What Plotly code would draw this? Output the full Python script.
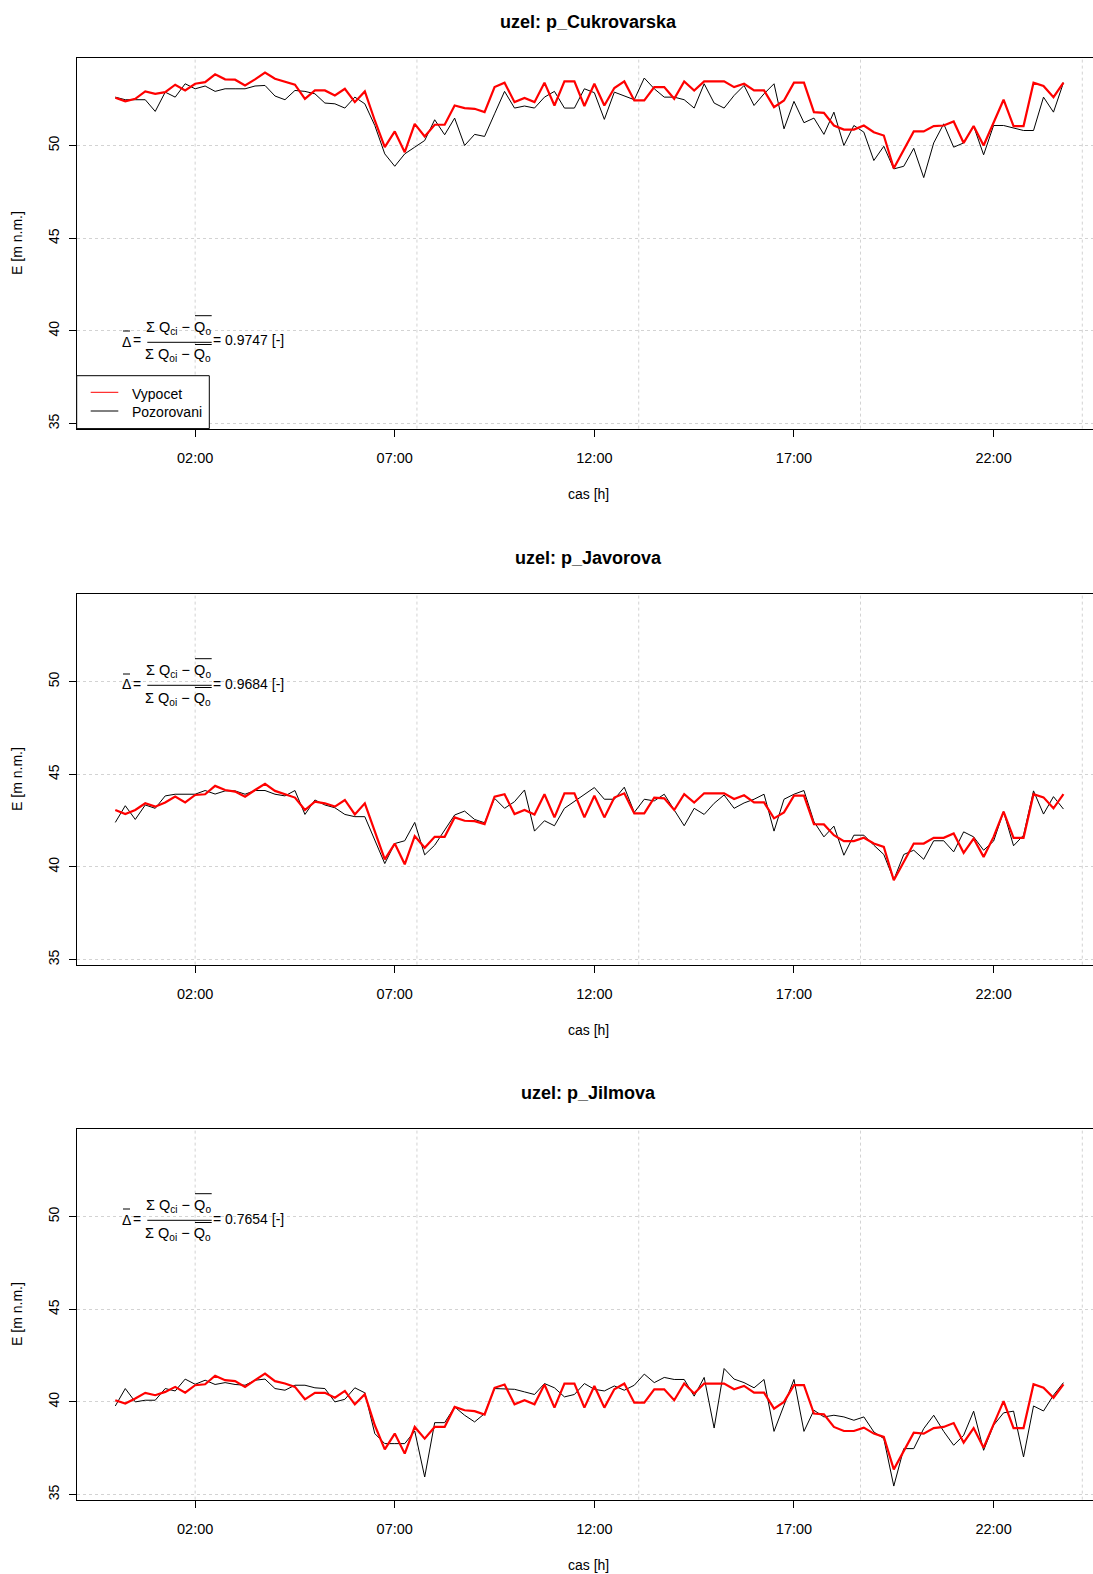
import numpy as np
import plotly.graph_objects as go

# ---------------------------------------------------------------------------
# data: computed (Vypocet) vs observed (Pozorovani) head E [m n.m.]
# 15-minute samples, 00:00 ... 23:45
# ---------------------------------------------------------------------------
nodes = ["p_Cukrovarska", "p_Javorova", "p_Jilmova"]
delta_values = ["0.9747", "0.9684", "0.7654"]

cas_h = np.arange(96) * 0.25

vypocet_cukrovarska = [
    52.58, 52.38, 52.52, 52.92, 52.79, 52.88, 53.28, 52.97, 53.33, 53.42,
    53.84, 53.57, 53.55, 53.24, 53.57, 53.93, 53.60, 53.46, 53.28, 52.52,
    52.97, 52.97, 52.70, 53.06, 52.34, 52.92, 51.35, 49.91, 50.76, 49.64,
    51.17, 50.49, 51.12, 51.12, 52.16, 52.02, 51.98, 51.80, 53.15, 53.39,
    52.34, 52.56, 52.34, 53.39, 52.16, 53.46, 53.46, 52.13, 53.33, 52.16,
    53.10, 53.46, 52.43, 52.43, 53.15, 53.15, 52.52, 53.46, 52.97, 53.46,
    53.46, 53.46, 53.15, 53.33, 52.97, 52.97, 52.07, 52.43, 53.39, 53.39,
    51.80, 51.76, 51.08, 50.86, 50.86, 51.08, 50.72, 50.54, 48.77, 49.73,
    50.76, 50.76, 51.05, 51.08, 51.30, 50.14, 51.05, 50.00, 51.26, 52.47,
    51.05, 51.05, 53.39, 53.21, 52.61, 53.39]
pozorovani_cukrovarska = [
    52.61, 52.47, 52.47, 52.47, 51.84, 52.88, 52.61, 53.33, 53.06, 53.21,
    52.92, 53.06, 53.06, 53.06, 53.21, 53.24, 52.67, 52.47, 52.97, 52.92,
    52.79, 52.29, 52.25, 52.02, 52.61, 52.25, 51.08, 49.55, 48.88, 49.55,
    49.91, 50.27, 51.39, 50.58, 51.48, 50.00, 50.60, 50.49, 51.71, 52.92,
    52.02, 52.13, 52.02, 52.61, 52.92, 52.02, 52.02, 53.06, 52.85, 51.41,
    52.88, 52.67, 52.47, 53.64, 53.06, 52.61, 52.61, 52.47, 52.02, 53.33,
    52.29, 52.02, 52.70, 53.24, 52.16, 52.79, 53.33, 50.90, 52.38, 51.23,
    51.48, 50.60, 51.80, 50.00, 51.08, 50.72, 49.19, 49.96, 48.74, 48.88,
    49.85, 48.27, 50.14, 51.17, 49.91, 50.14, 51.05, 49.50, 51.08, 51.08,
    50.94, 50.81, 50.81, 52.61, 51.80, 53.39]

vypocet_javorova = [
    43.07, 42.85, 43.07, 43.43, 43.25, 43.48, 43.79, 43.48, 43.88, 43.92,
    44.37, 44.15, 44.06, 43.79, 44.15, 44.48, 44.10, 43.92, 43.74, 43.07,
    43.52, 43.43, 43.25, 43.61, 42.83, 43.43, 41.89, 40.41, 41.26, 40.14,
    41.66, 41.03, 41.62, 41.62, 42.67, 42.49, 42.47, 42.31, 43.79, 43.92,
    42.85, 43.07, 42.83, 43.92, 42.67, 43.97, 43.97, 42.67, 43.84, 42.67,
    43.74, 43.97, 42.89, 42.89, 43.74, 43.70, 43.07, 43.93, 43.47, 43.97,
    43.97, 43.97, 43.66, 43.86, 43.48, 43.48, 42.62, 42.94, 43.84, 43.84,
    42.31, 42.29, 41.71, 41.39, 41.39, 41.57, 41.26, 41.08, 39.28, 40.27,
    41.26, 41.26, 41.57, 41.57, 41.80, 40.76, 41.53, 40.54, 41.62, 42.98,
    41.57, 41.57, 43.92, 43.75, 43.16, 43.92]
pozorovani_javorova = [
    42.40, 43.30, 42.56, 43.34, 43.16, 43.83, 43.92, 43.92, 43.92, 44.12,
    43.93, 44.10, 44.10, 43.92, 44.12, 44.12, 43.92, 43.83, 44.12, 42.83,
    43.61, 43.34, 43.19, 42.83, 42.71, 42.71, 41.44, 40.18, 41.26, 41.41,
    42.40, 40.65, 41.17, 41.99, 42.80, 43.01, 42.56, 42.38, 43.70, 43.16,
    43.52, 44.15, 41.93, 42.49, 42.22, 43.16, 43.52, 43.88, 44.28, 43.65,
    43.65, 44.30, 42.94, 43.65, 43.56, 43.92, 43.07, 42.22, 43.16, 42.83,
    43.43, 43.88, 43.16, 43.45, 43.65, 43.92, 41.93, 43.65, 43.92, 44.12,
    42.44, 41.62, 42.20, 40.63, 41.71, 41.71, 41.17, 40.67, 39.31, 40.67,
    40.90, 40.41, 41.41, 41.41, 40.81, 41.89, 41.62, 40.90, 41.39, 42.98,
    41.14, 41.71, 44.10, 42.85, 43.79, 43.12]

vypocet_jilmova = [
    40.09, 39.91, 40.18, 40.49, 40.36, 40.54, 40.81, 40.50, 40.90, 40.95,
    41.41, 41.17, 41.12, 40.81, 41.17, 41.53, 41.12, 40.99, 40.81, 40.14,
    40.49, 40.49, 40.23, 40.59, 39.87, 40.41, 38.74, 37.44, 38.29, 37.21,
    38.65, 38.02, 38.65, 38.65, 39.73, 39.55, 39.50, 39.32, 40.76, 40.94,
    39.87, 40.09, 39.87, 40.94, 39.69, 40.99, 40.99, 39.69, 40.86, 39.69,
    40.68, 40.99, 39.96, 39.96, 40.68, 40.68, 40.09, 40.99, 40.45, 40.99,
    40.99, 40.99, 40.68, 40.86, 40.50, 40.50, 39.64, 40.00, 40.90, 40.90,
    39.37, 39.33, 38.65, 38.43, 38.43, 38.61, 38.29, 38.11, 36.36, 37.35,
    38.34, 38.29, 38.59, 38.65, 38.86, 37.80, 38.59, 37.53, 38.74, 40.04,
    38.59, 38.59, 40.95, 40.76, 40.22, 40.95]
pozorovani_jilmova = [
    39.78, 40.72, 40.00, 40.09, 40.09, 40.72, 40.59, 41.23, 40.95, 41.17,
    40.94, 41.04, 40.94, 40.90, 41.17, 41.23, 40.72, 40.63, 40.90, 40.90,
    40.76, 40.72, 40.00, 40.14, 40.76, 40.49, 38.29, 37.75, 37.75, 37.75,
    38.43, 35.95, 38.88, 38.88, 39.73, 39.28, 38.92, 39.37, 40.72, 40.72,
    40.68, 40.54, 40.40, 40.99, 40.76, 40.27, 40.40, 40.99, 40.68, 40.59,
    40.86, 40.63, 40.90, 41.50, 41.04, 41.32, 41.21, 41.21, 40.31, 41.32,
    38.59, 41.80, 41.23, 41.04, 40.76, 41.21, 38.41, 39.82, 41.21, 38.41,
    39.55, 39.19, 39.28, 39.19, 39.01, 39.19, 38.38, 38.02, 35.46, 37.48,
    37.48, 38.56, 39.28, 38.41, 37.66, 38.20, 39.50, 37.39, 38.74, 39.41,
    39.50, 37.03, 39.78, 39.51, 40.36, 41.04]

vypocet = [vypocet_cukrovarska, vypocet_javorova, vypocet_jilmova]
pozorovani = [pozorovani_cukrovarska, pozorovani_javorova, pozorovani_jilmova]

tick_hours = [2, 7, 12, 17, 22]
tick_labels = ["02:00", "07:00", "12:00", "17:00", "22:00"]
y_ticks = [35, 40, 45, 50]
# vertical grid follows the time axis in steps of 20000 s
grid_hours = [2.0 + k * 20000 / 3600 for k in range(5)]

# ---------------------------------------------------------------------------
# page geometry (pixels)
# ---------------------------------------------------------------------------
W, H = 1093, 1574
FONT = "Liberation Sans, Arial, Helvetica, sans-serif"
plot_left = 76.7
panel_tops = [58.2, 594.2, 1129.2]
panel_h = 370.4
x_range = [-0.967, 24.49]
y_range = [34.73, 54.71]
GRID = "#d3d3d3"


def px(x):
    return x / W


def py(y):
    return 1 - y / H


fig = go.Figure()
shapes = []
annotations = []


def pline(x0, y0, x1, y1, color="black", width=1):
    shapes.append(dict(type="line", xref="paper", yref="paper",
                       x0=px(x0), y0=py(y0), x1=px(x1), y1=py(y1),
                       line=dict(color=color, width=width)))


def ptext(text, x, y, size=14, xanchor="center", yanchor="middle", angle=0):
    annotations.append(dict(text=text, x=px(x), y=py(y), xref="paper", yref="paper",
                            xanchor=xanchor, yanchor=yanchor, showarrow=False,
                            textangle=angle, borderpad=0,
                            font=dict(family=FONT, size=size, color="black")))


for k in range(3):
    n = k + 1
    xa = "x" if n == 1 else f"x{n}"
    ya = "y" if n == 1 else f"y{n}"
    top = panel_tops[k]
    bottom = top + panel_h

    fig.add_trace(go.Scatter(x=cas_h, y=pozorovani[k], mode="lines", xaxis=xa, yaxis=ya,
                             line=dict(color="black", width=1), name="Pozorovani",
                             showlegend=False))
    fig.add_trace(go.Scatter(x=cas_h, y=vypocet[k], mode="lines", xaxis=xa, yaxis=ya,
                             line=dict(color="#ff0000", width=2.2), name="Vypocet",
                             showlegend=False))

    fig.update_layout(**{
        ("xaxis" if n == 1 else f"xaxis{n}"): dict(
            domain=[px(plot_left), 1.0], range=x_range, anchor=ya,
            showline=True, linecolor="black", linewidth=1, mirror=True,
            ticks="outside", ticklen=7, tickcolor="black", tickwidth=1,
            tickvals=tick_hours, ticktext=tick_labels, ticklabelstandoff=9,
            showgrid=False, zeroline=False,
            tickfont=dict(family=FONT, size=14.5, color="black")),
        ("yaxis" if n == 1 else f"yaxis{n}"): dict(
            domain=[py(bottom), py(top)], range=y_range, anchor=xa,
            showline=True, linecolor="black", linewidth=1, mirror=False,
            ticks="outside", ticklen=7, tickcolor="black", tickwidth=1,
            tickvals=y_ticks, tickangle=-90, ticklabelstandoff=4,
            showgrid=True, gridcolor=GRID, gridwidth=1, griddash="dot", zeroline=False,
            tickfont=dict(family=FONT, size=14, color="black")),
    })

    for g in grid_hours:
        shapes.append(dict(type="line", xref=xa, yref=f"{ya} domain", x0=g, x1=g, y0=0, y1=1,
                           layer="below", line=dict(color=GRID, width=1, dash="dot")))

    # titles
    ptext(f"<b>uzel: {nodes[k]}</b>", 588, top - 36, size=18)
    ptext("cas [h]", 588, bottom + 65.5)
    ptext("E [m n.m.]", 17.5, top + panel_h / 2, angle=-90)

    # efficiency formula
    yc = 340.5 if k == 0 else top + 89.3
    ptext("Δ", 126.5, yc + 1)
    pline(123, yc - 9.5, 130, yc - 9.5)
    ptext("=", 137, yc)
    ptext("Σ Q<sub>ci</sub> − Q<sub>o</sub>", 211.7, yc - 13, size=14.5, xanchor="right")
    pline(195, yc - 24.8, 211.7, yc - 24.8)
    pline(147.3, yc + 1.8, 211.7, yc + 1.8)
    ptext("Σ Q<sub>oi</sub> − Q<sub>o</sub>", 211.7, yc + 15, size=14.5, xanchor="right")
    pline(195, yc + 4, 211.7, yc + 4)
    ptext(f"= {delta_values[k]} [-]", 211.7, yc, xanchor="left")

# legend box in the first panel
shapes.append(dict(type="rect", xref="paper", yref="paper",
                   x0=px(plot_left), x1=px(209.3), y0=py(375.7), y1=py(panel_tops[0] + panel_h),
                   line=dict(color="black", width=1), fillcolor="white"))
pline(90.7, 392.3, 118.3, 392.3, color="#ff0000")
pline(90.7, 411.0, 118.3, 411.0, color="black")
ptext("Vypocet", 130.7, 393.5, xanchor="left")
ptext("Pozorovani", 130.7, 411.5, xanchor="left")

fig.update_layout(
    width=W, height=H,
    margin=dict(l=0, r=0, t=0, b=0),
    paper_bgcolor="white", plot_bgcolor="white",
    showlegend=False,
    shapes=shapes, annotations=annotations,
    font=dict(family=FONT, size=14, color="black"),
)

fig.write_html("out.html")
